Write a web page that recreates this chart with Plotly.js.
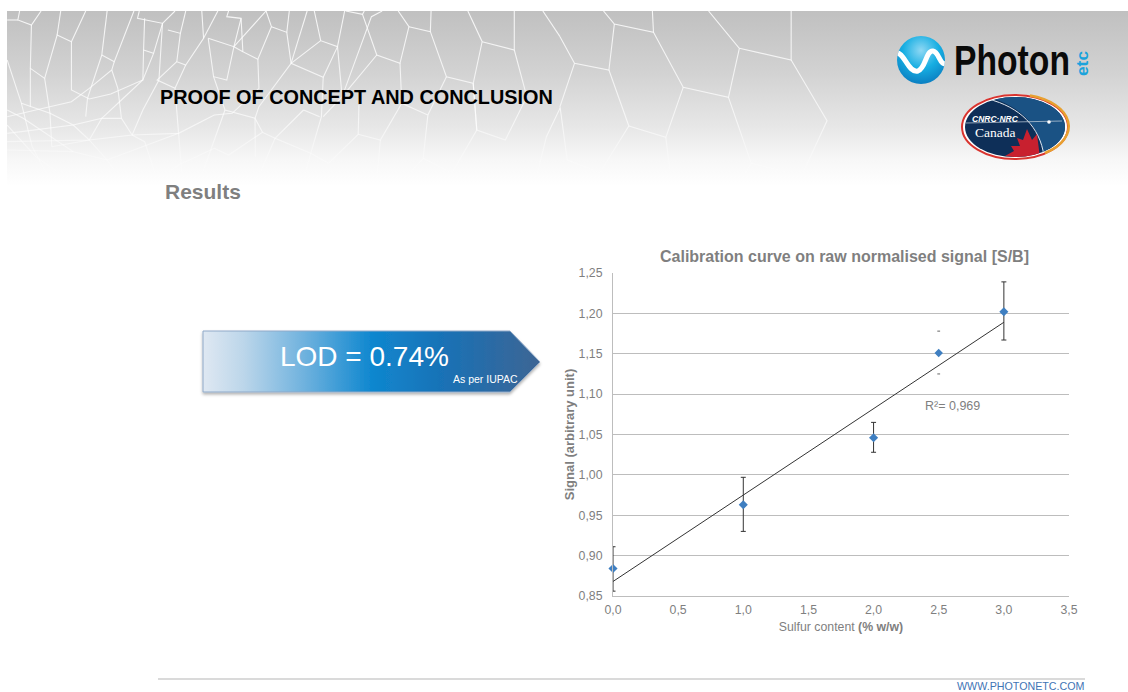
<!DOCTYPE html>
<html><head><meta charset="utf-8">
<script src="https://cdn.plot.ly/plotly-3.0.1.min.js"></script>
<style>
html,body{margin:0;padding:0;background:#fff;width:1128px;height:692px;overflow:hidden}
#bg{position:absolute;left:0;top:0}
#chart{position:absolute;left:0;top:0;width:1128px;height:692px}
</style></head><body>
<svg id="bg" width="1128" height="692" viewBox="0 0 1128 692">
<defs>
<linearGradient id="band" x1="0" y1="0" x2="0" y2="1">
<stop offset="0" stop-color="#c0c0c0"/><stop offset=".35" stop-color="#d2d2d2"/><stop offset=".65" stop-color="#e6e6e6"/><stop offset=".85" stop-color="#f7f7f7"/><stop offset="1" stop-color="#ffffff"/>
</linearGradient>
<linearGradient id="arrow" x1="0" y1="0" x2="1" y2="0">
<stop offset="0" stop-color="#dfe8f2"/><stop offset=".12" stop-color="#bcd6ea"/><stop offset=".3" stop-color="#6fb2de"/><stop offset=".5" stop-color="#0f87cf"/><stop offset=".72" stop-color="#1a71b5"/><stop offset="1" stop-color="#3d6594"/>
</linearGradient>
<linearGradient id="fade" x1="0" y1="11" x2="0" y2="185" gradientUnits="userSpaceOnUse">
<stop offset="0" stop-color="#fff" stop-opacity=".85"/><stop offset=".65" stop-color="#fff" stop-opacity=".65"/><stop offset="1" stop-color="#fff" stop-opacity="0"/>
</linearGradient>
<radialGradient id="sphere" cx=".5" cy=".3" r=".75">
<stop offset="0" stop-color="#8fd8f4"/><stop offset=".5" stop-color="#16aee2"/><stop offset="1" stop-color="#0a78bd"/>
</radialGradient>
<clipPath id="sc"><circle cx="921" cy="60" r="24"/></clipPath>
<clipPath id="oc"><ellipse cx="1015" cy="127" rx="50" ry="30"/></clipPath>
<clipPath id="bandClip"><rect x="7" y="11" width="1121" height="175"/></clipPath>
<filter id="sh" x="-5%" y="-5%" width="110%" height="120%"><feDropShadow dx="0" dy="2" stdDeviation="1.5" flood-color="#000" flood-opacity=".3"/></filter>
</defs>
<rect x="7" y="11" width="1121" height="175" fill="url(#band)"/>
<g id="web" clip-path="url(#bandClip)" fill="none" stroke="url(#fade)" stroke-width="1.1"></g>
<polygon points="203,331 510,331 540,362 510,392 203,392" fill="url(#arrow)" stroke="#8fa9c8" stroke-width="1" filter="url(#sh)"/>
<line x1="158" y1="679" x2="1085" y2="679" stroke="#b5b5b5" stroke-width="1"/>
<circle cx="921" cy="60" r="24" fill="url(#sphere)"/>
<path clip-path="url(#sc)" d="M895 53 C904 50 908 74 918 71 C926 68 926 50 933 51 C940 52 939 68 949 63" fill="none" stroke="#fff" stroke-width="5"/>
<text x="954" y="75" font-family="Liberation Sans, sans-serif" font-weight="700" font-size="42" fill="#0a0a0a" textLength="116" lengthAdjust="spacingAndGlyphs">Photon</text>
<text transform="translate(1088,76) rotate(-90)" font-family="Liberation Sans, sans-serif" font-weight="700" font-size="17" fill="#1aa3dc" textLength="25" lengthAdjust="spacingAndGlyphs">etc</text>
<ellipse cx="1015" cy="127" rx="54" ry="33" fill="#fff"/>
<ellipse cx="1015" cy="127" rx="53" ry="32" fill="none" stroke="#d8342f" stroke-width="2"/>
<path d="M1030 95.5 A53 32 0 0 1 1045 153" fill="none" stroke="#e8a030" stroke-width="2.5"/>
<ellipse cx="1015" cy="127" rx="50" ry="30" fill="#0e2f58"/>
<path clip-path="url(#oc)" d="M985 96 C1020 105 1040 125 1043 156 L1070 156 L1070 96 Z" fill="#1a5284"/>
<path clip-path="url(#oc)" d="M988 99 C1020 107 1040 127 1044 156" fill="none" stroke="#dfe6ee" stroke-width="1"/>
<line x1="966" y1="123" x2="1062" y2="121" stroke="#c8d4e0" stroke-width=".7"/>
<circle cx="1049" cy="122" r="1.8" fill="#fff"/>
<polygon clip-path="url(#oc)" points="1005,156 1014,151 1011,146 1020,146 1017,138 1023,140 1027,129 1032,140 1037,134 1040,158 1020,158" fill="#c8202f"/>
</svg>
<div id="chart"></div>
<script>
// chart values
const sulfur = [0, 1, 2, 3];
const signal = [0.884, 0.963, 1.046, 1.202];
const upper = [0.911, 0.997, 1.065, 1.239];
const lower = [0.856, 0.930, 1.028, 1.167];
const midSulfur = [2.5];
const midSignal = [1.151];
const midCapX = [2.5, 2.5];
const midCapY = [1.178, 1.125];
const trendX = [0, 3];
const trendY = [0.868, 1.189];
const xTicks = [0, 0.5, 1, 1.5, 2, 2.5, 3, 3.5];
const yTicks = [0.85, 0.9, 0.95, 1, 1.05, 1.1, 1.15, 1.2, 1.25];

// decorative web behind the header, in zoomed-crop units
const webLeft = [
[[55,33],[50,60],[88,75],[115,33]],[[20,60],[50,60]],[[88,75],[85,205],[125,235],[160,105],[200,125],[240,33]],[[160,105],[170,33]],
[[200,125],[200,270],[250,297],[310,282],[400,240],[402,150],[405,55]],[[85,205],[85,320]],[[125,235],[140,340],[145,440]],[[20,180],[60,310],[90,440],[130,520]],
[[285,165],[300,33]],[[285,165],[320,185],[375,33]],[[285,165],[245,295],[240,350]],[[320,185],[313,210],[250,265],[200,305],[100,330],[20,350]],
[[313,210],[330,265],[340,355],[370,405],[405,425],[440,540]],[[402,150],[430,160],[455,70],[385,55],[390,33]],[[430,160],[400,240],[340,300],[285,355],[205,375],[60,395],[20,400]],
[[455,70],[490,33]],[[470,90],[505,100],[495,185],[520,195],[570,115],[565,33]],[[505,100],[520,33]],[[495,185],[440,240],[490,265],[520,195]],
[[455,70],[445,240],[400,330],[370,405],[250,420],[20,425]],[[570,115],[610,33]],[[583,115],[655,140],[745,33]],[[583,115],[598,230],[635,240],[655,140]],
[[640,33],[635,50],[675,55],[680,155],[722,178],[760,80],[745,33]],[[675,55],[655,140]],[[680,155],[655,140]],[[722,178],[725,265],[650,340],[600,345],[500,400],[370,405]],
[[760,80],[803,97],[815,190],[905,232],[945,140],[898,122],[880,33]],[[803,97],[810,33]],[[815,190],[860,33]],[[898,122],[815,190],[725,320],[714,355],[715,470]],
[[905,232],[900,350],[870,460],[850,540]],[[945,140],[958,290],[1040,50],[1070,33]],[[945,140],[965,33]],[[968,33],[1015,43],[1020,33]],[[1015,43],[1055,165],[1120,190],[1145,80],[1115,33]],
[[1055,165],[958,290],[905,350]],[[1145,80],[1205,95],[1250,230],[1325,250],[1350,125],[1310,33]],[[1205,95],[1207,33]],[[1350,125],[1440,150],[1440,33]],[[1440,150],[1475,290],[1415,420],[1335,390],[1325,250]],
[[1120,190],[1125,310],[1198,345],[1185,475],[1130,540]],[[1250,230],[1198,345]],[[1125,310],[1065,420],[1003,403],[920,490],[870,460],[770,415],[735,397],[640,465],[600,445],[500,495],[440,540]],
[[1003,403],[1005,315]],[[1065,420],[1055,540]],[[1335,390],[1265,520]],[[1325,250],[1335,390]],[[1185,475],[1265,520]],[[735,397],[714,355],[630,330],[598,230]],
[[850,330],[895,350]],[[850,330],[770,415],[720,540]],[[630,330],[590,450],[560,540]],[[490,265],[500,400],[510,530]],[[340,355],[285,355],[250,420],[300,480],[340,540]],
[[20,330],[65,355],[205,455],[300,480],[500,400]],[[60,310],[140,340],[205,375],[250,420]],[[20,375],[100,470],[180,530]],[[20,450],[205,455]],[[145,440],[250,420]],
[[1520,33],[1568,110]],[[1568,325],[1530,410],[1500,540]]
];
const webRight = [
[[120,33],[150,72],[258,97],[255,33]],[[150,72],[135,210],[40,190],[0,110]],[[40,190],[0,320],[20,480],[110,518],[190,378],[135,210]],
[[258,97],[340,262],[465,292],[495,145],[410,33]],[[495,145],[638,180],[638,33]],[[638,180],[737,362],[670,520]],[[340,262],[292,412],[190,378]],
[[292,412],[308,550]],[[465,292],[528,490],[505,530]],[[528,490],[640,520]],[[110,518],[105,560]]
];
const web = document.getElementById('web');
function addWeb(lines, fx, fy) {
  lines.forEach(l => {
    const p = document.createElementNS('http://www.w3.org/2000/svg', 'polyline');
    p.setAttribute('points', l.map(q => fx(q[0]) + ',' + fy(q[1])).join(' '));
    web.appendChild(p);
  });
}
addWeb(webLeft, v => v / 2.8, v => v / 3);
addWeb(webRight, v => 560 + v / 2.76, v => v / 3);

// plot frame
const L = 613, R = 1069, T = 273, B = 596, W = 1128, H = 692;
const px = v => (v - L) / (R - L), py = v => 1 - (v - T) / (B - T);
const sans = 'Liberation Sans, Arial, sans-serif';
function note(text, x, y, size, color, opts) {
  return Object.assign({text: text, xref: 'paper', yref: 'paper', x: px(x), y: py(y), showarrow: false,
    xanchor: 'left', yanchor: 'middle', font: {family: sans, size: size, color: color}, borderpad: 0, captureevents: false}, opts || {});
}
const annotations = [
  note('<b>PROOF OF CONCEPT AND CONCLUSION</b>', 159, 97, 19.85, '#000'),
  note('<b>Results</b>', 164, 191, 21, '#7f7f7f'),
  note('LOD = 0.74%', 364, 356, 28, '#fff', {xanchor: 'center'}),
  note('As per IUPAC', 452, 379, 10.5, '#fff'),
  note('<b>Calibration curve on raw normalised signal [S/B]</b>', 844, 256, 16, '#7f7f7f', {xanchor: 'center'}),
  note('R²= 0,969', 924, 406, 12.5, '#7f7f7f'),
  note('WWW.PHOTONETC.COM', 1086, 686, 10.7, '#3f74b5', {xanchor: 'right'}),
  note('<b><i>CNRC·NRC</i></b>', 971, 119, 8.5, '#fff'),
  note('Canada', 974, 132, 13.5, '#fff', {font: {family: 'Liberation Serif, serif', size: 13.5, color: '#fff'}})
];

const data = [
  {x: trendX, y: trendY, mode: 'lines', line: {color: '#333', width: 1}, cliponaxis: false, hoverinfo: 'skip'},
  {x: sulfur, y: signal, mode: 'markers', cliponaxis: false,
    marker: {symbol: 'diamond', size: 7, color: '#3f7fc1'},
    error_y: {type: 'data', symmetric: false,
      array: upper.map((u, i) => u - signal[i]),
      arrayminus: lower.map((l, i) => signal[i] - l),
      color: '#333', thickness: 1, width: 2.5}},
  {x: midSulfur, y: midSignal, mode: 'markers', cliponaxis: false, marker: {symbol: 'diamond', size: 6.5, color: '#3f7fc1'}},
  {x: midCapX, y: midCapY, mode: 'markers', cliponaxis: false,
    marker: {symbol: 'line-ew', size: 2, line: {color: '#666', width: 1}}}
];
const tickFont = {family: sans, size: 12.3, color: '#7f7f7f'};
const layout = {
  width: W, height: H, showlegend: false, separators: ', ',
  paper_bgcolor: 'rgba(0,0,0,0)', plot_bgcolor: 'rgba(0,0,0,0)',
  margin: {l: L, r: W - R, t: T, b: H - B, pad: 0},
  xaxis: {range: [0, 3.5], tickmode: 'array', tickvals: xTicks, ticktext: xTicks.map(v => v.toFixed(1).replace('.', ',')),
    showgrid: false, zeroline: false, showline: true, linecolor: '#bdbdbd', linewidth: 1, ticks: '', tickfont: tickFont, ticklabelstandoff: 2,
    title: {text: 'Sulfur content <b>(% w/w)</b>', font: {family: sans, size: 12.3, color: '#7f7f7f'}, standoff: 6}},
  yaxis: {range: [0.85, 1.25], tickmode: 'array', tickvals: yTicks, ticktext: yTicks.map(v => v.toFixed(2).replace('.', ',')),
    showgrid: true, gridcolor: '#bdbdbd', gridwidth: 1, zeroline: false, showline: true, linecolor: '#bdbdbd', linewidth: 1, ticks: '', tickfont: tickFont, ticklabelstandoff: 7,
    title: {text: '<b>Signal (arbitrary unit)</b>', font: {family: sans, size: 13, color: '#7f7f7f'}, standoff: 1}},
  annotations: annotations
};
Plotly.newPlot('chart', data, layout, {displayModeBar: false, staticPlot: true});
</script>
</body></html>
